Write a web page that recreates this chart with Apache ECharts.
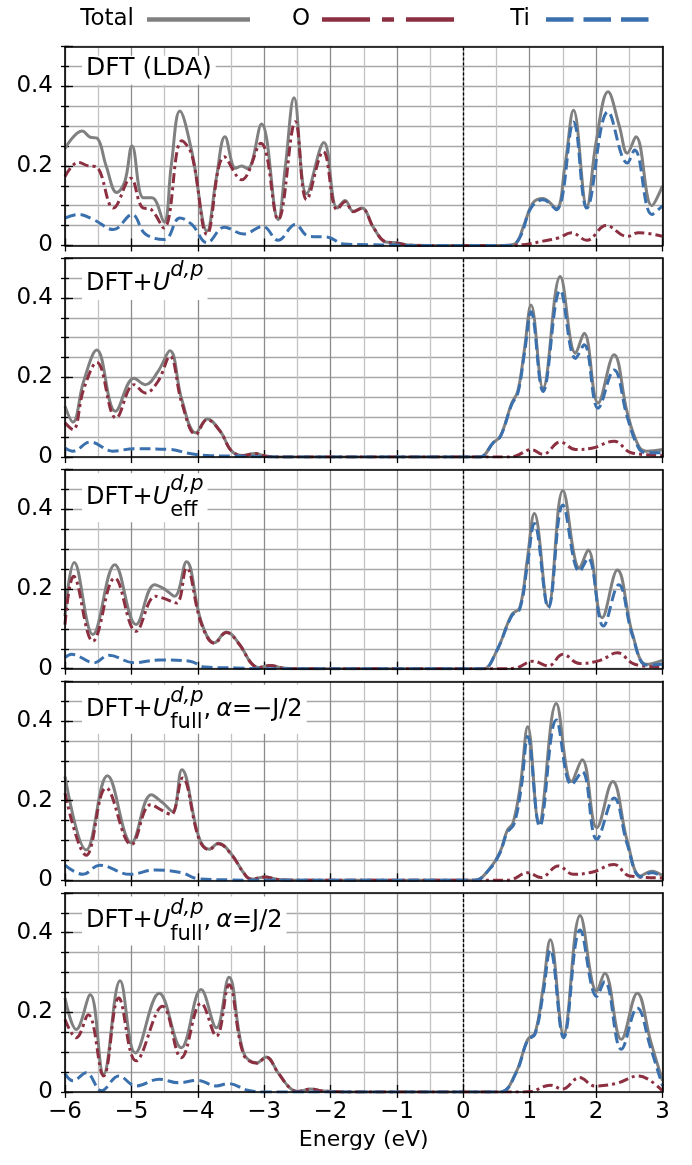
<!DOCTYPE html>
<html><head><meta charset="utf-8">
<script src="https://cdn.jsdelivr.net/npm/echarts@6/dist/echarts.min.js"></script>
<style>html,body{margin:0;padding:0;background:#fff}#c{width:692px;height:1165px}</style>
</head><body><div id="c"></div>
<script>
// ---------- data (energy in eV, DOS values) ----------
const energyTicks = [-6, -5, -4, -3, -2, -1, 0, 1, 2, 3];
const dosTickLabels = [0, 0.2, 0.4];
const seriesNames = ['Total', 'O', 'Ti'];
const xAxisName = 'Energy (eV)';

// Panel 1: DFT (LDA)
const ldaTotal = [[-6,0.244],[-5.74,0.288],[-5.62,0.272],[-5.52,0.27],[-5.38,0.2],[-5.22,0.133],[-5.1,0.16],[-4.99,0.25],[-4.82,0.12],[-4.69,0.12],[-4.51,0.059],[-4.4,0.2],[-4.27,0.338],[-4.09,0.236],[-3.86,0.036],[-3.72,0.17],[-3.59,0.273],[-3.43,0.194],[-3.34,0.2],[-3.25,0.193],[-3.04,0.305],[-2.79,0.065],[-2.68,0.2],[-2.55,0.371],[-2.36,0.13],[-2.1,0.259],[-1.9,0.094],[-1.78,0.113],[-1.66,0.086],[-1.53,0.094],[-1.35,0.044],[-1.17,0.009],[-1.0,0.007],[-0.83,0.001],[-0.5,0],[0,0],[0.6,0],[0.78,0.004],[0.91,0.05],[1.05,0.107],[1.2,0.118],[1.4,0.093],[1.53,0.2],[1.66,0.34],[1.86,0.098],[2.0,0.26],[2.18,0.386],[2.35,0.3],[2.47,0.232],[2.6,0.273],[2.84,0.1],[3,0.15]];
const ldaO = [[-6,0.173],[-5.8,0.209],[-5.65,0.2],[-5.53,0.198],[-5.27,0.094],[-5.01,0.169],[-4.84,0.096],[-4.7,0.09],[-4.51,0.044],[-4.24,0.263],[-4.09,0.228],[-3.86,0.028],[-3.6,0.223],[-3.34,0.165],[-3.05,0.257],[-2.79,0.065],[-2.53,0.311],[-2.36,0.115],[-2.11,0.236],[-1.9,0.09],[-1.78,0.11],[-1.66,0.085],[-1.53,0.093],[-1.35,0.044],[-1.17,0.009],[-1.0,0.006],[-0.83,0.001],[-0.5,0],[0,0],[0.6,0],[0.9,0.002],[1.2,0.011],[1.43,0.019],[1.63,0.032],[1.86,0.013],[2.15,0.05],[2.47,0.023],[2.64,0.032],[3,0.023]];
const ldaTi = [[-6,0.069],[-5.8,0.078],[-5.57,0.065],[-5.27,0.04],[-4.99,0.078],[-4.79,0.029],[-4.5,0.015],[-4.27,0.069],[-4.09,0.053],[-3.86,0.007],[-3.6,0.046],[-3.31,0.029],[-3.02,0.048],[-2.79,0.013],[-2.53,0.053],[-2.33,0.023],[-2.04,0.021],[-1.81,0.004],[-1.4,0.002],[-1.0,0.001],[-0.8,0],[0,0],[0.7,0],[0.85,0.02],[1.02,0.094],[1.2,0.115],[1.4,0.09],[1.66,0.31],[1.86,0.094],[2.18,0.336],[2.47,0.207],[2.58,0.24],[2.84,0.078],[3,0.1]];

// Panel 2: DFT+U^{d,p}
const udpTotal = [[-6,0.128],[-5.88,0.088],[-5.72,0.19],[-5.52,0.269],[-5.24,0.115],[-4.96,0.198],[-4.79,0.182],[-4.6,0.215],[-4.42,0.267],[-4.24,0.144],[-4.03,0.061],[-3.86,0.096],[-3.66,0.065],[-3.49,0.015],[-3.31,0.004],[-3.14,0.009],[-2.97,0.002],[-2.7,0],[0,0],[0.25,0],[0.45,0.036],[0.56,0.053],[0.73,0.136],[0.82,0.165],[0.92,0.27],[1.02,0.382],[1.2,0.173],[1.46,0.454],[1.69,0.261],[1.82,0.311],[2.03,0.136],[2.27,0.257],[2.47,0.111],[2.64,0.028],[2.76,0.015],[3,0.019]];
const udpO = [[-6,0.086],[-5.88,0.069],[-5.72,0.17],[-5.52,0.238],[-5.23,0.098],[-4.96,0.182],[-4.79,0.161],[-4.6,0.19],[-4.42,0.253],[-4.24,0.136],[-4.03,0.057],[-3.86,0.094],[-3.66,0.064],[-3.49,0.015],[-3.31,0.004],[-3.14,0.009],[-2.97,0.002],[-2.7,0],[0,0],[0.6,0],[0.79,0.003],[1.02,0.019],[1.2,0.007],[1.46,0.038],[1.69,0.019],[1.95,0.023],[2.27,0.04],[2.53,0.011],[3,0.004]];
const udpTi = [[-6,0.023],[-5.88,0.015],[-5.62,0.038],[-5.28,0.015],[-4.96,0.021],[-4.41,0.019],[-4.12,0.009],[-3.83,0.004],[-3.25,0.002],[-2.8,0],[0,0],[0.25,0],[0.45,0.036],[0.56,0.052],[0.73,0.133],[0.82,0.16],[0.92,0.26],[1.02,0.365],[1.2,0.165],[1.46,0.419],[1.69,0.248],[1.82,0.282],[2.03,0.123],[2.27,0.219],[2.47,0.1],[2.64,0.023],[2.76,0.011],[3,0.011]];

// Panel 3: DFT+U^{d,p}_eff
const effTotal = [[-6,0.132],[-5.86,0.267],[-5.58,0.086],[-5.25,0.261],[-4.93,0.111],[-4.65,0.211],[-4.5,0.2],[-4.35,0.182],[-4.17,0.269],[-3.95,0.119],[-3.75,0.065],[-3.57,0.092],[-3.37,0.061],[-3.2,0.015],[-3.08,0.003],[-2.91,0.008],[-2.73,0.002],[-2.5,0],[0,0],[0.3,0],[0.5,0.044],[0.73,0.136],[0.85,0.153],[0.96,0.27],[1.07,0.39],[1.28,0.157],[1.5,0.448],[1.75,0.253],[1.88,0.298],[2.09,0.128],[2.32,0.248],[2.55,0.086],[2.76,0.011],[3,0.021]];
const effO = [[-6,0.111],[-5.87,0.232],[-5.58,0.069],[-5.25,0.228],[-4.93,0.094],[-4.64,0.182],[-4.5,0.176],[-4.32,0.165],[-4.17,0.253],[-3.95,0.115],[-3.75,0.064],[-3.57,0.091],[-3.37,0.06],[-3.2,0.015],[-3.08,0.003],[-2.91,0.008],[-2.73,0.002],[-2.5,0],[0,0],[0.6,0],[0.79,0.002],[1.05,0.019],[1.28,0.007],[1.5,0.036],[1.75,0.013],[2.06,0.021],[2.32,0.04],[2.58,0.011],[3,0.004]];
const effTi = [[-6,0.028],[-5.9,0.036],[-5.56,0.015],[-5.34,0.034],[-4.96,0.015],[-4.58,0.022],[-4.12,0.019],[-3.89,0.004],[-3.43,0.002],[-3,0],[0,0],[0.3,0],[0.5,0.044],[0.73,0.133],[0.85,0.15],[0.96,0.255],[1.07,0.365],[1.28,0.153],[1.5,0.411],[1.75,0.244],[1.88,0.278],[2.11,0.107],[2.34,0.211],[2.55,0.082],[2.76,0.009],[3,0.011]];

// Panel 4: DFT+U^{d,p}_full, alpha = -J/2
const fullMTotal = [[-6,0.261],[-5.68,0.076],[-5.36,0.263],[-5.0,0.094],[-4.7,0.215],[-4.53,0.195],[-4.38,0.173],[-4.24,0.278],[-3.98,0.107],[-3.83,0.078],[-3.69,0.093],[-3.49,0.065],[-3.31,0.019],[-3.2,0.003],[-2.99,0.008],[-2.79,0.002],[-2.5,0],[0,0],[0.18,0],[0.39,0.028],[0.55,0.07],[0.66,0.125],[0.75,0.145],[0.86,0.24],[0.97,0.386],[1.14,0.144],[1.4,0.444],[1.63,0.248],[1.79,0.303],[2.01,0.132],[2.25,0.248],[2.47,0.098],[2.67,0.011],[2.84,0.023],[3,0.011]];
const fullMO = [[-6,0.219],[-5.68,0.063],[-5.38,0.232],[-5.0,0.09],[-4.71,0.19],[-4.53,0.175],[-4.4,0.165],[-4.23,0.257],[-3.98,0.103],[-3.83,0.077],[-3.69,0.092],[-3.49,0.064],[-3.31,0.019],[-3.2,0.003],[-2.99,0.008],[-2.79,0.002],[-2.5,0],[0,0],[0.6,0],[0.71,0.001],[0.97,0.019],[1.17,0.007],[1.43,0.036],[1.66,0.015],[1.95,0.021],[2.27,0.04],[2.5,0.011],[3,0.006]];
const fullMTi = [[-6,0.038],[-5.73,0.015],[-5.48,0.038],[-5.02,0.015],[-4.64,0.026],[-4.24,0.019],[-4.0,0.004],[-3.5,0.001],[-3,0],[0,0],[0.18,0],[0.39,0.027],[0.55,0.068],[0.66,0.12],[0.76,0.14],[0.87,0.23],[0.97,0.361],[1.15,0.136],[1.4,0.403],[1.63,0.24],[1.79,0.273],[2.01,0.103],[2.27,0.207],[2.47,0.09],[2.67,0.009],[2.84,0.019],[3,0.009]];

// Panel 5: DFT+U^{d,p}_full, alpha = J/2
const fullPTotal = [[-6,0.236],[-5.83,0.157],[-5.62,0.244],[-5.42,0.044],[-5.17,0.279],[-4.94,0.098],[-4.58,0.248],[-4.25,0.111],[-3.95,0.257],[-3.72,0.161],[-3.53,0.288],[-3.31,0.098],[-3.11,0.073],[-2.97,0.088],[-2.79,0.048],[-2.62,0.011],[-2.5,0.001],[-2.3,0.007],[-2.1,0.002],[-1.8,0],[0,0],[0.56,0],[0.79,0.048],[0.97,0.132],[1.08,0.148],[1.2,0.26],[1.31,0.382],[1.51,0.144],[1.76,0.443],[2.01,0.253],[2.13,0.298],[2.38,0.132],[2.62,0.248],[2.82,0.128],[3,0.028]];
const fullPO = [[-6,0.182],[-5.83,0.136],[-5.65,0.194],[-5.42,0.04],[-5.19,0.236],[-4.93,0.078],[-4.53,0.215],[-4.25,0.086],[-3.95,0.223],[-3.72,0.14],[-3.53,0.269],[-3.31,0.094],[-3.11,0.072],[-2.97,0.087],[-2.79,0.048],[-2.62,0.011],[-2.5,0.001],[-2.3,0.007],[-2.1,0.002],[-1.8,0],[0,0],[0.9,0],[1.02,0.001],[1.31,0.017],[1.49,0.007],[1.75,0.036],[1.98,0.015],[2.3,0.021],[2.64,0.04],[3,0.002]];
const fullPTi = [[-6,0.046],[-5.88,0.028],[-5.68,0.048],[-5.45,0.003],[-5.19,0.04],[-4.93,0.015],[-4.58,0.032],[-4.29,0.023],[-4.0,0.029],[-3.72,0.015],[-3.54,0.021],[-3.25,0.004],[-3.02,0],[0,0],[0.56,0],[0.79,0.046],[0.97,0.13],[1.08,0.145],[1.2,0.245],[1.31,0.357],[1.51,0.136],[1.76,0.407],[2.01,0.24],[2.13,0.278],[2.38,0.107],[2.62,0.211],[2.82,0.111],[3,0.015]];

// panel annotations
const panelLabels = [
  [{t:'DFT (LDA)', fs:25}],
  [{t:'DFT+'},{t:'U',it:true},{sup:'d,p'}],
  [{t:'DFT+'},{t:'U',it:true},{sup:'d,p',sub:'eff'}],
  [{t:'DFT+'},{t:'U',it:true},{sup:'d,p',sub:'full'},{t:','},{sp:5},{t:'\u03b1',it:true},{t:'=\u2212J/2'}],
  [{t:'DFT+'},{t:'U',it:true},{sup:'d,p',sub:'full'},{t:','},{sp:5},{t:'\u03b1',it:true},{t:'=J/2'}]
];

const panels = [
  [ldaTotal, ldaO, ldaTi],
  [udpTotal, udpO, udpTi],
  [effTotal, effO, effTi],
  [fullMTotal, fullMO, fullMTi],
  [fullPTotal, fullPO, fullPTi]
];

// ---------- styles / layout ----------
const FONT = 'DejaVu Sans';
const COLORS = {Total:'#808080', O:'#8c2f40', Ti:'#3a70ad'};
const DASH = {Total:'solid', O:[10,4,3,4], Ti:[11,5]};
const gridLeft = 65, gridWidth = 597.5, gridHeight = 199;
const gridTops = [46.5, 258.1, 469.7, 681.3, 892.9];
const baseOff = [30.5, 34, 36.5, 36.5, 36.5];
const FS = 24, SS = 21, MID = 0.35;

const mctx = document.createElement('canvas').getContext('2d');
function tw(s, size, it) { mctx.font = (it ? 'italic ' : '') + size + 'px "' + FONT + '"'; return mctx.measureText(s).width; }
const fmtE = v => v < 0 ? '\u2212' + Math.abs(v) : String(v);
const fmtY = v => { const m = dosTickLabels.find(t => Math.abs(t - v) < 1e-9); return m === undefined ? '' : (m === 0 ? '0' : m.toFixed(1)); };

const grids = [], xAxes = [], yAxes = [], series = [];
gridTops.forEach((top, i) => {
  const last = i === gridTops.length - 1;
  grids.push({left: gridLeft, top: top, width: gridWidth, height: gridHeight, show: false});
  const xb = {type:'value', gridIndex:i, min:-6, max:3, interval:1};
  xAxes.push(Object.assign({}, xb, {position:'bottom', z:1,
    axisLine:{show:false, onZero:false},
    axisTick:{show:true, inside:true, length:7, lineStyle:{color:'#000', width:1.3}},
    axisLabel:{show:last, margin:9, fontSize:23, color:'#000', fontFamily:FONT, formatter:fmtE},
    splitLine:{show:true, lineStyle:{color:'#8c8c8c', width:1.3}},
    minorTick:{show:false, splitNumber:2},
    minorSplitLine:{show:true, lineStyle:{color:'#c2c2c2', width:1.3}},
    name: last ? xAxisName : '', nameLocation:'middle', nameGap:37,
    nameTextStyle:{fontSize:22, color:'#000', fontFamily:FONT}}));
  xAxes.push(Object.assign({}, xb, {position:'bottom', z:5,
    axisLine:{show:true, onZero:false, lineStyle:{color:'#000', width:1.6}},
    axisTick:{show:true, inside:false, length:6, lineStyle:{color:'#000', width:1.3}},
    axisLabel:{show:false}, splitLine:{show:false}}));
  xAxes.push(Object.assign({}, xb, {position:'top', z:5,
    axisLine:{show:true, onZero:false, lineStyle:{color:'#000', width:1.6}},
    axisTick:{show:false}, axisLabel:{show:false}, splitLine:{show:false}}));
  const yb = {type:'value', gridIndex:i, min:0, max:0.5};
  yAxes.push(Object.assign({}, yb, {interval:0.05, position:'left', z:1,
    axisLine:{show:false, onZero:false},
    axisTick:{show:true, inside:true, length:4, lineStyle:{color:'#000', width:1.3}},
    axisLabel:{show:true, margin:12, fontSize:23, color:'#000', fontFamily:FONT, formatter:fmtY},
    splitLine:{show:true, lineStyle:{color:'#a8a8a8', width:1.3}}}));
  yAxes.push(Object.assign({}, yb, {interval:0.05, position:'left', z:5,
    axisLine:{show:true, onZero:false, lineStyle:{color:'#000', width:1.6}},
    axisTick:{show:true, inside:false, length:4, lineStyle:{color:'#000', width:1.3}},
    axisLabel:{show:false}, splitLine:{show:false}}));
  yAxes.push(Object.assign({}, yb, {interval:0.2, position:'left', z:5,
    axisLine:{show:false, onZero:false},
    axisTick:{show:true, inside:true, length:8, lineStyle:{color:'#000', width:1.3}},
    axisLabel:{show:false}, splitLine:{show:false}}));
  yAxes.push(Object.assign({}, yb, {interval:0.05, position:'right', z:5,
    axisLine:{show:true, onZero:false, lineStyle:{color:'#000', width:1.6}},
    axisTick:{show:false}, axisLabel:{show:false}, splitLine:{show:false}}));

  panels[i].forEach((data, k) => {
    const name = seriesNames[k];
    const s = {type:'line', name, data, xAxisIndex:3*i, yAxisIndex:4*i, symbol:'none',
      smooth:0.4, color:COLORS[name], z:2+k,
      lineStyle:{color:COLORS[name], width:3, type:DASH[name]}};
    if (k === 0) s.markLine = {symbol:['none','none'], silent:true, animation:false,
      label:{show:false}, lineStyle:{color:'#000', width:1.3, type:[3,2]}, data:[{xAxis:0}]};
    series.push(s);
  });
});

// annotations
const graphics = [];
panelLabels.forEach((pieces, i) => {
  const B = gridTops[i] + baseOff[i];
  let x = 86; const els = [];
  let top = B - 0.76 * FS, bottom = B + 0.2 * FS;
  const txt = (s, x, b, fs, it) => ({type:'text', x:x, y:b - MID*fs, z:51, silent:true,
    style:{text:s, fontSize:fs, fontFamily:FONT, fontStyle: it ? 'italic' : 'normal', fill:'#000',
      align:'left', verticalAlign:'middle', textAlign:'left', textVerticalAlign:'middle'}});
  pieces.forEach(p => {
    if (p.sp !== undefined) { x += p.sp; }
    else if (p.t !== undefined) { const f = p.fs || FS; els.push(txt(p.t, x, B, f, p.it)); x += tw(p.t, f, p.it); }
    else {
      const sb = B - 14, bb = B + 12; let w = 0;
      if (p.sup) { els.push(txt(p.sup, x, sb, SS, true)); w = Math.max(w, tw(p.sup, SS, true)); top = Math.min(top, sb - 0.76*SS); }
      if (p.sub) { els.push(txt(p.sub, x, bb, SS, false)); w = Math.max(w, tw(p.sub, SS, false)); bottom = Math.max(bottom, bb + 0.05*SS); }
      x += w;
    }
  });
  graphics.push({type:'rect', z:50, silent:true, shape:{x:82, y:top - 3, width:x - 82 + 4, height:bottom - top + 6}, style:{fill:'#fff'}});
  els.forEach(e => graphics.push(e));
});

// legends (one component per entry)
const legendSpec = [
  {name:'Total', iconStart:147, gap:13, w:103, dash:'solid'},
  {name:'O', iconStart:322, gap:12, w:139, dash:[48,12,12,12]},
  {name:'Ti', iconStart:546, gap:16, w:103, dash:[27.5,10]}
];
const legends = legendSpec.map(l => ({
  data:[l.name], left: l.iconStart - l.gap - tw(l.name, 23, false), top:8, padding:0,
  align:'right', itemWidth:l.w, itemHeight:24, selectedMode:false,
  itemStyle:{opacity:0, borderWidth:0},
  textStyle:{fontSize:23, color:'#000', fontFamily:FONT, padding:[0, l.gap - 5, 0, 0]},
  lineStyle:{width:4.5, type:l.dash, opacity:1}
}));

const chart = echarts.init(document.getElementById('c'), null, {renderer:'canvas'});
chart.setOption({
  animation:false, backgroundColor:'#fff', textStyle:{fontFamily:FONT},
  grid:grids, xAxis:xAxes, yAxis:yAxes, series:series, legend:legends, graphic:graphics
});
</script></body></html>
